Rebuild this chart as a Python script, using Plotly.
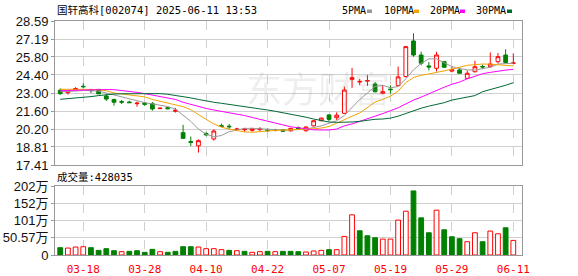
import plotly.graph_objects as go

# ---------------- data ----------------
dates = ["03-13","03-14","03-17","03-18","03-19","03-20","03-21","03-24","03-25","03-26",
         "03-27","03-28","03-31","04-01","04-02","04-03","04-07","04-08","04-09","04-10",
         "04-11","04-14","04-15","04-16","04-17","04-18","04-21","04-22","04-23","04-24",
         "04-25","04-28","04-29","04-30","05-06","05-07","05-08","05-09","05-12","05-13",
         "05-14","05-15","05-16","05-19","05-20","05-21","05-22","05-23","05-26","05-27",
         "05-28","05-29","05-30","06-03","06-04","06-05","06-06","06-09","06-10","06-11"]

open_ = [23.22,23.02,23.25,23.52,23.23,23.28,22.77,22.50,22.33,22.30,
         22.17,22.22,22.17,21.79,21.86,21.58,19.92,19.23,18.90,19.86,
         19.43,20.46,20.42,20.16,20.15,20.10,20.16,20.12,20.12,20.15,
         20.07,20.30,20.07,20.45,20.85,21.30,21.08,21.42,24.06,23.85,
         23.92,23.70,22.98,23.30,23.57,24.27,27.04,25.95,25.10,24.92,
         25.43,24.70,24.79,24.14,24.65,25.06,25.04,25.43,25.95,25.30]
high = [23.36,23.22,23.45,23.75,23.32,23.30,22.92,22.55,22.46,22.40,
        22.33,22.30,22.30,21.85,21.90,21.85,20.52,19.62,19.40,19.95,
        20.18,20.62,20.60,20.30,20.30,20.30,20.35,20.25,20.22,20.20,
        20.30,20.40,20.42,20.90,21.10,21.35,21.50,23.50,24.95,24.10,
        24.40,23.85,23.60,23.60,25.05,26.62,27.63,26.20,25.40,26.20,
        25.50,25.05,24.95,24.75,25.50,25.20,26.15,26.10,26.40,26.08]
low = [22.85,22.88,23.18,23.36,23.00,22.92,22.38,22.02,22.15,22.22,
       21.94,22.00,21.63,21.75,21.74,21.48,19.45,18.88,18.37,19.65,
       19.30,20.35,20.20,20.05,20.00,20.00,20.05,20.00,20.02,20.00,
       20.00,20.15,20.00,20.40,20.80,20.80,20.90,21.40,23.40,23.60,
       23.55,23.05,22.90,22.95,23.50,24.20,25.82,25.15,24.75,24.67,
       24.95,24.60,24.50,24.10,24.60,24.85,25.00,25.30,25.30,25.30]
close = [22.95,23.18,23.35,23.49,23.19,22.93,22.53,22.28,22.29,22.25,
         22.21,22.12,21.76,21.82,21.78,21.66,19.48,19.17,19.30,19.75,
         20.05,20.42,20.38,20.20,20.20,20.22,20.20,20.08,20.09,20.03,
         20.25,20.25,20.36,20.85,21.05,20.95,21.28,23.23,24.19,23.90,
         23.97,23.10,23.10,23.26,24.25,26.60,25.95,25.31,25.02,25.95,
         25.00,24.82,24.53,24.53,25.04,25.02,25.25,25.82,25.36,25.33]

ma5 = [23.10,23.10,23.15,23.20,23.20,23.15,23.00,22.85,22.65,22.50,
       22.35,22.25,22.15,22.05,21.95,21.75,21.30,20.80,20.20,19.80,
       19.60,19.70,20.00,20.10,20.25,20.26,20.22,20.18,20.15,20.12,
       20.12,20.15,20.20,20.32,20.45,20.65,20.85,21.25,21.90,22.50,
       23.00,23.50,23.60,23.40,23.50,24.10,24.80,25.30,25.65,25.65,
       25.35,25.05,24.90,24.80,24.78,24.88,25.00,25.25,25.30,25.31]
ma10 = [23.29,23.30,23.30,23.30,23.28,23.25,23.18,23.00,22.92,22.86,
        22.80,22.70,22.50,22.35,22.22,22.10,21.94,21.70,21.30,20.95,
        20.60,20.35,20.20,20.08,19.98,19.95,19.98,20.05,20.10,20.12,
        20.14,20.16,20.18,20.22,20.28,20.40,20.65,20.95,21.20,21.45,
        21.90,22.30,22.50,22.75,23.15,23.80,24.20,24.38,24.48,24.58,
        24.72,24.85,25.00,25.15,25.20,25.25,25.24,25.18,25.14,25.10]
ma20 = [23.18,23.20,23.22,23.24,23.26,23.27,23.27,23.26,23.20,23.12,
        23.05,22.95,22.85,22.72,22.60,22.50,22.28,22.10,21.95,21.80,
        21.68,21.58,21.50,21.38,21.25,21.10,20.95,20.80,20.65,20.50,
        20.38,20.30,20.20,20.14,20.13,20.13,20.20,20.45,20.60,20.78,
        20.98,21.20,21.40,21.60,21.85,22.15,22.45,22.68,22.95,23.20,
        23.45,23.68,23.85,24.10,24.30,24.50,24.60,24.70,24.78,24.84]
ma30 = [22.51,22.55,22.60,22.65,22.72,22.80,22.88,22.92,22.94,22.95,
        22.96,22.96,22.96,22.95,22.90,22.82,22.72,22.62,22.50,22.38,
        22.28,22.20,22.12,22.02,21.94,21.85,21.76,21.68,21.58,21.48,
        21.38,21.27,21.12,20.98,20.85,20.75,20.72,20.72,20.75,20.80,
        20.88,20.96,20.98,21.05,21.20,21.40,21.65,21.82,21.98,22.12,
        22.25,22.45,22.58,22.68,22.80,23.10,23.25,23.42,23.60,23.80]

# volume in 万
volume = [21.4,20.4,23.4,24.3,21.4,13.6,18.5,12.6,9.7,10.7,
          12.6,7.8,16.5,9.7,7.8,10.7,24.3,24.3,23.4,18.5,
          18.5,15.6,13.6,12.6,10.7,7.8,9.7,10.7,9.7,10.7,
          10.7,9.7,8.8,11.7,13.6,15.6,15.6,54.5,117.7,71.0,
          56.4,50.6,46.7,46.7,102.2,128.4,187.8,109.0,65.2,131.4,
          73.9,53.5,47.7,38.9,65.2,38.9,70.1,62.3,79.8,42.8]
vol_up = [0,1,1,1,0,0,0,0,1,0,
          0,0,0,1,0,0,0,0,1,1,
          1,1,0,1,0,1,1,0,1,0,
          0,0,1,1,1,0,1,1,1,0,
          0,0,1,1,1,1,0,0,0,1,
          0,0,0,1,1,0,1,1,0,1]

price_ticks = [17.41,18.81,20.20,21.60,23.00,24.40,25.80,27.19,28.59]
vol_ticks = [0,50.57,101.14,151.71,202.28]
vol_ticktext = ["0","50.57万","101万","152万","202万"]
date_ticks = ["03-18","03-28","04-10","04-22","05-07","05-19","05-29","06-11"]
title_text = "国轩高科[002074] 2025-06-11 13:53"
vol_title = "成交量:428035"
ma_names = ["5PMA","10PMA","20PMA","30PMA"]

# ---------------- style ----------------
RED = "#ff0000"
GREEN = "#008000"
MA_COLORS = ["#999999", "#f5a300", "#ff00ff", "#006a35"]
GRID = "#d0d0d0"
BORDER = "#999999"

W, H = 578, 276
L, R, T, B = 55, 56, 21, 21
PH = H - T - B
PW = W - L - R

def py(y):
    return (H - B - y) / PH

def px(x):
    return (x - L) / PW

fig = go.Figure()

fig.add_trace(go.Candlestick(
    x=dates, open=open_, high=high, low=low, close=close,
    increasing=dict(line=dict(color=RED, width=1), fillcolor="white"),
    decreasing=dict(line=dict(color=GREEN, width=1), fillcolor=GREEN),
    whiskerwidth=0, xaxis="x", yaxis="y", hoverinfo="skip"))

for vals, col in zip([ma5, ma10, ma20, ma30], MA_COLORS):
    fig.add_trace(go.Scatter(x=dates, y=vals, mode="lines",
                             line=dict(color=col, width=1),
                             xaxis="x", yaxis="y", hoverinfo="skip"))

fig.add_trace(go.Bar(
    x=dates, y=volume, width=0.62,
    marker=dict(color=["white" if u else GREEN for u in vol_up],
                line=dict(color=[RED if u else GREEN for u in vol_up], width=1)),
    xaxis="x2", yaxis="y2", hoverinfo="skip"))

axis_common = dict(showline=True, linecolor=BORDER, linewidth=1, mirror=True,
                   zeroline=False, fixedrange=True, automargin=False)

fig.update_layout(
    width=W, height=H,
    margin=dict(l=L, r=R, t=T, b=B, pad=0, autoexpand=False),
    paper_bgcolor="white", plot_bgcolor="white",
    showlegend=False, boxgap=0.3,
    xaxis=dict(type="category", domain=[0, 1], range=[-0.68, 60.13],
               tickvals=date_ticks, showticklabels=False, ticks="",
               showgrid=True, gridcolor=GRID, griddash="dash", gridwidth=1,
               rangeslider=dict(visible=False), anchor="y", **axis_common),
    yaxis=dict(domain=[py(165), 1], range=[17.41, 28.59],
               tickvals=price_ticks, ticktext=[f"{v:.2f}" for v in price_ticks],
               ticks="outside", ticklen=3, tickcolor=BORDER,
               tickfont=dict(family="Liberation Sans, Arial", size=13, color="#111"),
               showgrid=True, gridcolor=GRID, gridwidth=1, anchor="x", **axis_common),
    xaxis2=dict(type="category", domain=[0, 1], range=[-0.68, 60.13],
                tickvals=date_ticks, ticktext=date_ticks,
                ticks="outside", ticklen=4, tickcolor="rgba(0,0,0,0)",
                tickfont=dict(family="DejaVu Sans Mono", size=11, color=RED),
                showgrid=True, gridcolor=GRID, griddash="dash", gridwidth=1,
                anchor="y2", **axis_common),
    yaxis2=dict(domain=[0, py(186)], range=[0, 202.28],
                tickvals=vol_ticks, ticktext=vol_ticktext,
                ticks="outside", ticklen=3, tickcolor=BORDER,
                tickfont=dict(family="Liberation Sans, Noto Sans CJK SC", size=13, color="#111"),
                showgrid=True, gridcolor=GRID, gridwidth=1, anchor="x2", **axis_common),
)

ann = []
mono_cjk = "DejaVu Sans Mono, Noto Sans CJK SC"
ann.append(dict(text=title_text, x=px(55), y=py(10), xref="paper", yref="paper",
                xanchor="left", yanchor="middle", showarrow=False,
                font=dict(family=mono_cjk, size=10.5, color="#000")))
ann.append(dict(text=vol_title, x=px(55), y=py(177), xref="paper", yref="paper",
                xanchor="left", yanchor="middle", showarrow=False,
                font=dict(family=mono_cjk, size=10.5, color="#000")))
# watermark
ann.append(dict(text="东方财富", x=px(318), y=py(87), xref="paper", yref="paper",
                xanchor="center", yanchor="middle", showarrow=False,
                font=dict(family="Noto Sans CJK SC", size=36, color="rgba(150,150,150,0.16)")))

legend_x = [340, 382, 428, 474]
sq_x = [367, 414, 460, 507]
shapes = []
for name, lx, sx, col in zip(ma_names, legend_x, sq_x, MA_COLORS):
    ann.append(dict(text=name, x=px(lx), y=py(11), xref="paper", yref="paper",
                    xanchor="left", yanchor="middle", showarrow=False,
                    font=dict(family="DejaVu Sans Mono", size=10, color="#000")))
    shapes.append(dict(type="rect", xref="paper", yref="paper",
                       x0=px(sx), x1=px(sx + 5), y0=py(13), y1=py(9.5),
                       fillcolor=col, line=dict(width=0)))

fig.update_layout(annotations=ann, shapes=shapes)

fig.write_html("out.html", config=dict(displayModeBar=False, staticPlot=True))
